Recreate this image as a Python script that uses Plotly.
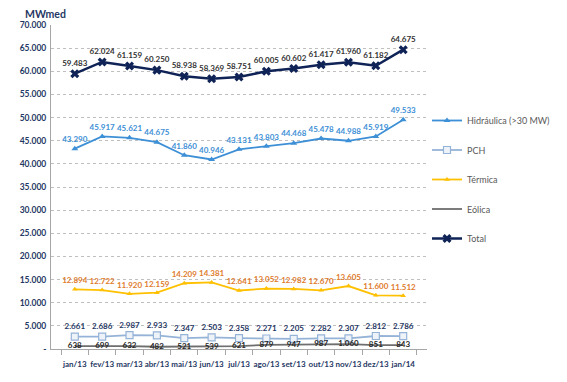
import plotly.graph_objects as go

months = ["jan/13", "fev/13", "mar/13", "abr/13", "mai/13", "jun/13", "jul/13",
          "ago/13", "set/13", "out/13", "nov/13", "dez/13", "jan/14"]
hidraulica = [43290, 45917, 45621, 44675, 41860, 40946, 43131, 43803, 44468, 45478, 44988, 45919, 49533]
pch = [2661, 2686, 2987, 2933, 2347, 2503, 2358, 2271, 2205, 2282, 2307, 2812, 2786]
termica = [12894, 12722, 11920, 12159, 14209, 14381, 12641, 13052, 12982, 12670, 13605, 11600, 11512]
eolica = [638, 699, 632, 482, 521, 539, 621, 879, 947, 987, 1060, 851, 843]
total = [59483, 62024, 61159, 60250, 58938, 58369, 58751, 60005, 60602, 61417, 61960, 61182, 64675]
ytick_vals = [0, 5000, 10000, 15000, 20000, 25000, 30000, 35000, 40000, 45000, 50000, 55000, 60000, 65000, 70000]
ytick_text = ["-", "5.000", "10.000", "15.000", "20.000", "25.000", "30.000", "35.000",
              "40.000", "45.000", "50.000", "55.000", "60.000", "65.000", "70.000"]

FONT = "Lato"
NAVY = "#1F3864"
lbl = dict(family=FONT, size=8, weight="bold")

fig = go.Figure()
fig.add_trace(go.Scatter(
    x=months, y=hidraulica, name="Hidráulica (>30 MW)", mode="lines+markers+text",
    line=dict(color="#3D8FD6", width=1.8),
    marker=dict(symbol="triangle-up", size=6, color="#3D8FD6"),
    texttemplate="%{y:,.0f}", textposition="top center",
    textfont=dict(lbl, color="#3D8FD6"), legendgroup="a"))
fig.add_trace(go.Scatter(
    x=months, y=pch, name="PCH", mode="lines+markers+text",
    line=dict(color="#95B3D7", width=1.8),
    marker=dict(symbol="square", size=7, color="#EEF3FA", line=dict(color="#95B3D7", width=1.2)),
    texttemplate="%{y:,.0f}", textposition="top center",
    textfont=dict(lbl, color=NAVY), legendgroup="b"))
fig.add_trace(go.Scatter(
    x=months, y=termica, name="Térmica", mode="lines+markers+text",
    line=dict(color="#FFC000", width=1.8),
    marker=dict(symbol="triangle-up", size=5, color="#FFC000"),
    texttemplate="%{y:,.0f}", textposition="top center",
    textfont=dict(lbl, color="#E07B2C"), legendgroup="c"))
fig.add_trace(go.Scatter(
    x=months, y=eolica, name="Eólica", mode="lines+text",
    line=dict(color="#6E6E6E", width=1.8),
    texttemplate="%{y:,.0f}", textposition="middle center",
    textfont=dict(lbl, color="#262626"), legendgroup="d"))
fig.add_trace(go.Scatter(
    x=months, y=total, name="Total", mode="lines+markers+text",
    line=dict(color="#0F2356", width=2.5),
    marker=dict(symbol="x", size=8, color="#0F2356"),
    texttemplate="%{y:,.0f}", textposition="top center",
    textfont=dict(lbl, color="#333333"), legendgroup="e"))

fig.update_layout(
    width=559, height=374,
    margin=dict(l=40, r=103, t=16, b=33),
    plot_bgcolor="white", paper_bgcolor="white",
    separators=",.",
    font=dict(family=FONT, size=9, color=NAVY),
    showlegend=True,
    legend=dict(x=1.0, xanchor="left", y=0.75, yanchor="top",
                font=dict(family=FONT, size=9, color="#595959"),
                tracegroupgap=10.5, itemwidth=30, bgcolor="rgba(0,0,0,0)"),
    annotations=[dict(text="<b>MWmed</b>", xref="paper", yref="paper", x=-0.075, y=1.0,
                      xanchor="left", yanchor="bottom", yshift=3, showarrow=False,
                      font=dict(family=FONT, size=10.5, color=NAVY))],
)
fig.update_xaxes(
    showline=True, linecolor="#A6A6A6", linewidth=1,
    ticks="outside", tickson="boundaries", ticklen=5, tickcolor="#A6A6A6",
    tickfont=dict(family=FONT, size=8, weight="bold", color=NAVY),
    tickangle=0, showgrid=False, ticklabelstandoff=7)
fig.update_yaxes(
    range=[0, 70000], tickvals=ytick_vals, ticktext=ytick_text,
    showline=True, linecolor="#A6A6A6", linewidth=1,
    showgrid=True, gridcolor="#BFBFBF", griddash="dot", gridwidth=1,
    zeroline=False,
    tickfont=dict(family=FONT, size=8.5, weight="bold", color=NAVY),
    ticks="", ticklabelstandoff=2)

fig.write_html("out.html")
